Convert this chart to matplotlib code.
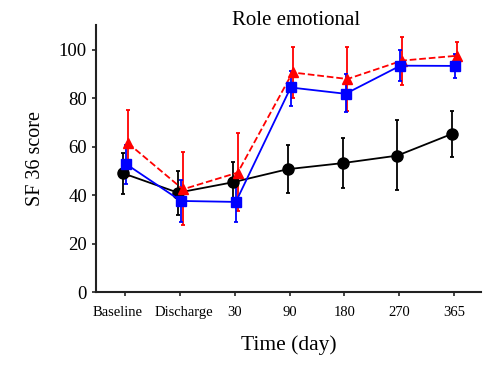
import numpy as np
import matplotlib
matplotlib.use('Agg')
import matplotlib.pyplot as plt
import matplotlib.transforms as mtransforms

time_labels = ["Baseline", "Discharge", "30", "90", "180", "270", "365"]

black_mean = [49.0, 41.0, 45.3, 50.7, 53.2, 56.3, 65.3]
black_lo = [40.6, 31.8, 37.0, 40.8, 43.1, 42.1, 55.7]
black_hi = [57.3, 50.1, 53.8, 60.7, 63.5, 70.8, 74.9]

blue_mean = [52.8, 37.6, 37.2, 84.4, 81.8, 93.4, 93.3]
blue_lo = [44.6, 28.8, 28.8, 76.9, 74.1, 87.0, 88.5]
blue_hi = [60.7, 46.3, 45.5, 91.4, 90.0, 100.0, 98.2]

red_mean = [61.4, 42.4, 49.3, 90.6, 87.9, 95.5, 97.5]
red_lo = [48.0, 27.7, 33.6, 80.0, 74.9, 85.4, 92.5]
red_hi = [75.2, 57.7, 65.6, 101.0, 101.0, 105.3, 103.0]

x = np.arange(len(time_labels))

plt.rcParams['font.family'] = ['Liberation Serif', 'DejaVu Serif']
fig = plt.figure(figsize=(5, 3.74), dpi=100)
ax = fig.add_axes([0.192, 0.219, 0.77, 0.713])


def plot_series(offset, mean, lo, hi, color, marker, ms, ls):
    mean = np.array(mean)
    yerr = [mean - np.array(lo), np.array(hi) - mean]
    ax.errorbar(x + offset, mean, yerr=yerr, color=color, marker=marker, markersize=ms,
                linestyle=ls, linewidth=1.3, elinewidth=1.3, capsize=1.5, capthick=1.3)


plot_series(-0.035, black_mean, black_lo, black_hi, 'black', 'o', 8, '-')
plot_series(0.055, red_mean, red_lo, red_hi, '#ff0000', '^', 7, '--')
plot_series(0.02, blue_mean, blue_lo, blue_hi, '#0000ff', 's', 6.5, '-')

ax.set_xlim(-0.53, 6.49)
ax.set_ylim(0, 110)
ax.set_yticks([0, 20, 40, 60, 80, 100])
ax.set_xticks(x)
ax.set_xticklabels(time_labels, fontsize=10.5)
ax.tick_params(axis='y', labelsize=13.5, length=3, width=1.2, colors='#222222', labelcolor='black')
ax.tick_params(axis='x', length=3, width=1.2, pad=7, colors='#222222', labelcolor='black')

# the first two labels sit a bit apart in the original
shifts = {0: -7, 1: 4}
for i, lab in enumerate(ax.get_xticklabels()):
    if i in shifts:
        lab.set_transform(lab.get_transform() + mtransforms.ScaledTranslation(shifts[i] / 100, 0, fig.dpi_scale_trans))

for s in ['top', 'right']:
    ax.spines[s].set_visible(False)
for s in ['left', 'bottom']:
    ax.spines[s].set_linewidth(1.5)
    ax.spines[s].set_color('#222222')

ax.set_xlabel("Time (day)", fontsize=15.5, labelpad=12)
ax.set_ylabel("SF 36 score", fontsize=14.5, labelpad=10)
ax.text(0.52, 1.02, "Role emotional", transform=ax.transAxes, ha='center', va='center', fontsize=15)

fig.savefig("out.png", dpi=100)
